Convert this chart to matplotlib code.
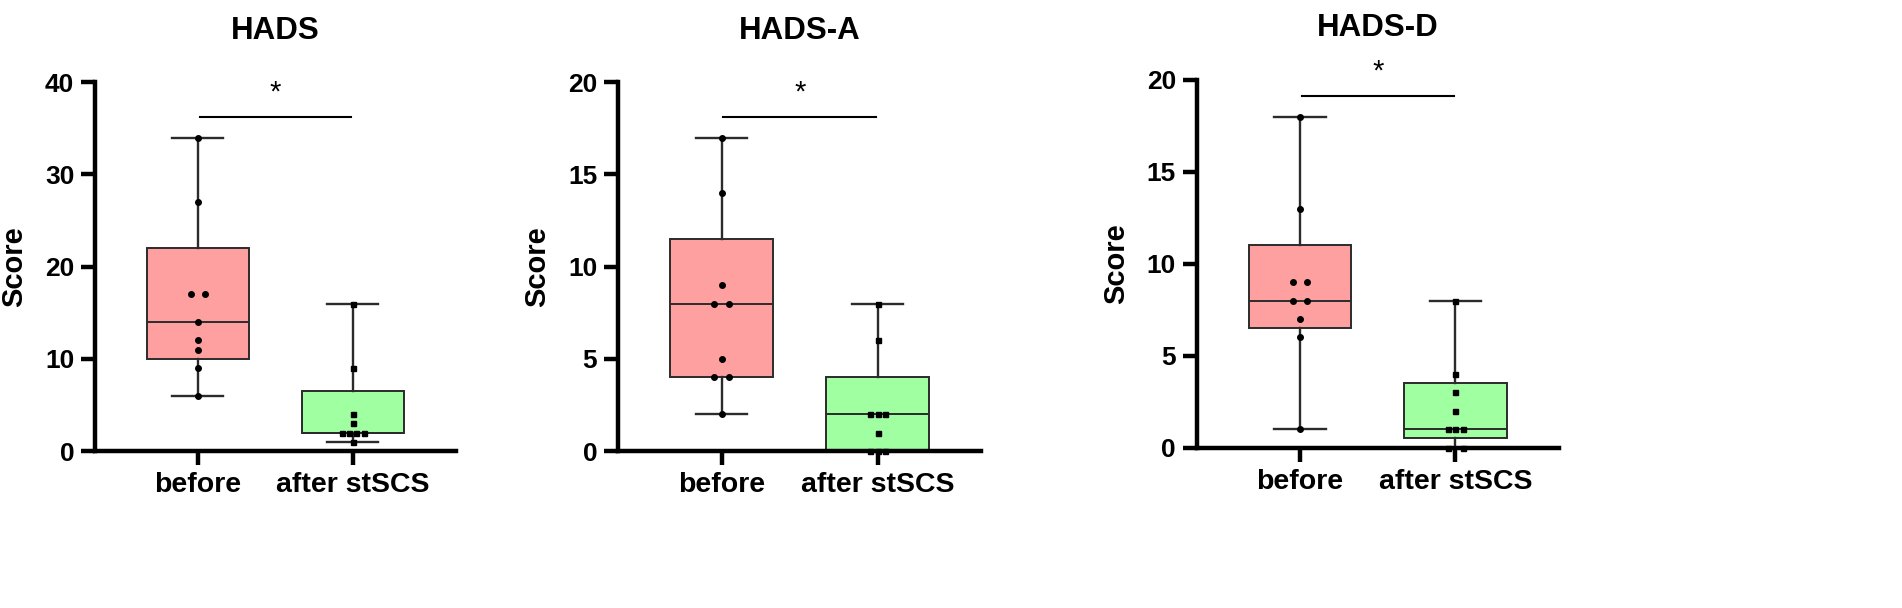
import numpy as np
import matplotlib.pyplot as plt

plt.rcParams['font.family'] = ['Liberation Sans', 'DejaVu Sans']

# data
titles = ['HADS', 'HADS-A', 'HADS-D']
groups = ['before', 'after stSCS']
before_hads = [34, 27, 17, 17, 14, 12, 11, 9, 6]
after_hads = [16, 9, 4, 3, 2, 2, 2, 2, 1]
before_a = [17, 14, 9, 8, 8, 5, 4, 4, 2]
after_a = [8, 6, 2, 2, 2, 1, 0, 0, 0]
before_d = [18, 13, 9, 9, 8, 8, 7, 6, 1]
after_d = [8, 4, 3, 2, 1, 1, 1, 0, 0]
y_max = [40, 20, 20]
y_step = [10, 5, 5]
sig_y = [36.25, 18.1, 19.1]

panels = [(before_hads, after_hads), (before_a, after_a), (before_d, after_d)]

# axes rectangles in figure fractions
rects = [
    [0.0500, 0.2582, 0.1895, 0.6064],
    [0.3250, 0.2582, 0.1909, 0.6064],
    [0.6292, 0.2637, 0.1903, 0.6051],
]

box_colors = ['#FFA0A0', '#A0FFA0']
markers = ['o', 's']
marker_sizes = [4.0, 3.6]
edge = '#2b2b2b'


def box_stats(vals, label):
    v = np.asarray(vals, float)
    # GraphPad style quartiles
    q1, med, q3 = np.percentile(v, [25, 50, 75], method='weibull')
    return dict(label=label, med=med, q1=q1, q3=q3,
                whislo=v.min(), whishi=v.max(), fliers=[])


def spread(vals, step=0.048):
    # place tied values side by side like a scatter dot plot
    vals = np.asarray(vals)
    offs = np.zeros(len(vals))
    for v in np.unique(vals):
        idx = np.where(vals == v)[0]
        n = len(idx)
        if n == 2:
            offs[idx] = [-step, step]
        elif n > 2:
            offs[idx] = (np.arange(n) - (n - 1) / 2) * step
    return offs


fig = plt.figure(figsize=(19.02, 6.08), dpi=100)

for i, (before, after) in enumerate(panels):
    ax = fig.add_axes(rects[i])
    stats = [box_stats(before, groups[0]), box_stats(after, groups[1])]
    bp = ax.bxp(stats, positions=[0, 1], widths=0.66, capwidths=0.33,
                patch_artist=True, showfliers=False,
                boxprops=dict(edgecolor=edge, linewidth=1.4),
                whiskerprops=dict(color=edge, linewidth=1.7),
                capprops=dict(color=edge, linewidth=1.7),
                medianprops=dict(color=edge, linewidth=1.4))
    for patch, c in zip(bp['boxes'], box_colors):
        patch.set_facecolor(c)

    for j, vals in enumerate([before, after]):
        x = j + spread(vals)
        ax.plot(x, vals, linestyle='none', marker=markers[j],
                markersize=marker_sizes[j], color='black', zorder=5,
                clip_on=False)

    # significance bar
    ax.plot([0.01, 0.99], [sig_y[i], sig_y[i]], color='black', lw=1.5,
            clip_on=False)
    ax.text(0.5, sig_y[i] + 0.066 * y_max[i], '*', ha='center', va='center',
            fontsize=21, clip_on=False)

    ax.set_xlim(-0.665, 1.665)
    ax.set_ylim(0, y_max[i])
    ax.set_yticks(np.arange(0, y_max[i] + 1, y_step[i]))
    ax.set_xticks([0, 1])
    ax.set_xticklabels(groups, fontsize=20.5, fontweight='bold')
    for lab in ax.get_yticklabels():
        lab.set_fontsize(19)
        lab.set_fontweight('bold')

    ax.spines['top'].set_visible(False)
    ax.spines['right'].set_visible(False)
    ax.spines['left'].set_linewidth(3.2)
    ax.spines['bottom'].set_linewidth(3.2)
    ax.tick_params(axis='both', length=10, width=3.2, pad=5)

    ax.set_ylabel('Score', fontsize=21, fontweight='bold', labelpad=12)
    ax.text(0.5, 1.14, titles[i], transform=ax.transAxes, ha='center',
            va='center', fontsize=22.5, fontweight='bold')

fig.savefig('out.png', dpi=100)
